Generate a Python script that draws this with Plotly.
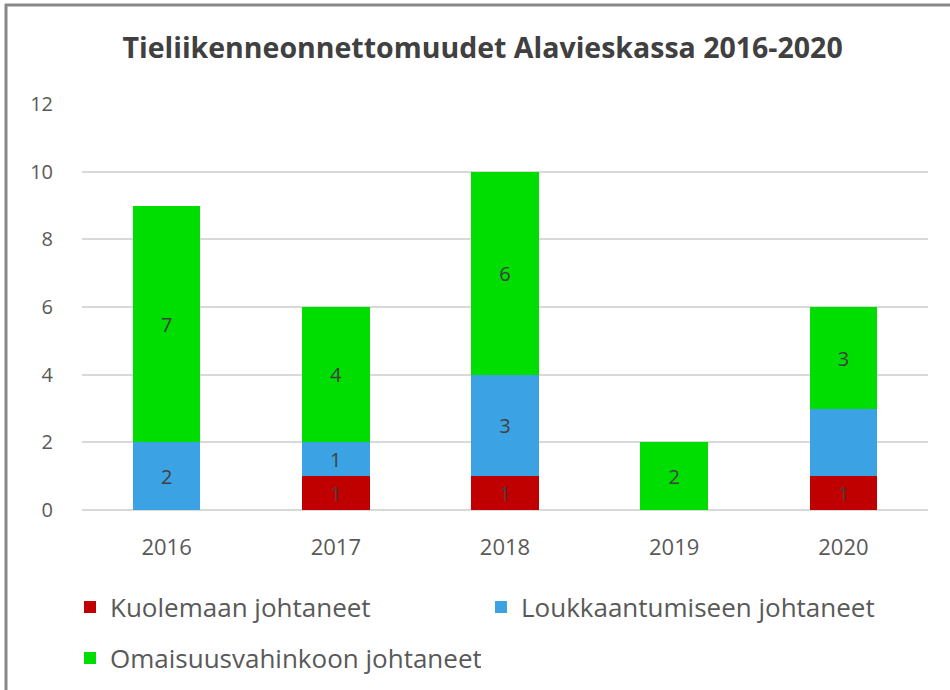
import plotly.graph_objects as go

years = ["2016", "2017", "2018", "2019", "2020"]
kuolemaan = [0, 1, 1, 0, 1]
loukkaantumiseen = [2, 1, 3, 0, 2]
omaisuus = [7, 4, 6, 2, 3]
series_names = ["Kuolemaan johtaneet", "Loukkaantumiseen johtaneet", "Omaisuusvahinkoon johtaneet"]
colors = ["#C00000", "#3BA3E3", "#00DD00"]
# labels shown as in the original (2020 injury label missing there)
label_show = [
    [False, True, True, False, True],
    [True, True, True, False, False],
    [True, True, True, True, True],
]
legend_ids = ["legend", "legend", "legend2"]
title = "Tieliikenneonnettomuudet Alavieskassa 2016-2020"

FONT = "Open Sans"
fig = go.Figure()
for name, vals, col, show, lg in zip(series_names, [kuolemaan, loukkaantumiseen, omaisuus], colors, label_show, legend_ids):
    fig.add_trace(go.Bar(
        x=years, y=vals, name=name, legend=lg,
        marker=dict(color=col, line=dict(width=0)),
        text=[str(v) if s else "" for v, s in zip(vals, show)],
        textposition="inside", insidetextanchor="middle",
        textfont=dict(size=23, color="#404040", family=FONT),
        textangle=0,
    ))

W, H = 950, 690
L, R, T, B = 82, 22, 104, 180
pw, ph = W - L - R, H - T - B

def px(x):
    return (x - L) / pw

def py(y):
    return (H - B - y) / ph

legend_common = dict(orientation="h", xanchor="left", yanchor="middle",
                     font=dict(size=26, color="#595959"), entrywidth=366, entrywidthmode="pixels",
                     traceorder="normal", bgcolor="rgba(0,0,0,0)")

fig.update_layout(
    barmode="stack", bargap=0.6,
    width=W, height=H,
    margin=dict(l=L, r=R, t=T, b=B, autoexpand=False),
    paper_bgcolor="white", plot_bgcolor="white",
    font=dict(family=FONT, color="#595959"),
    uniformtext=dict(minsize=10, mode="show"),
    title=dict(text="<b>" + title + "</b>", x=0.508, xanchor="center",
               y=1 - 48 / H, yanchor="middle",
               font=dict(size=28.5, color="#404040", family=FONT)),
    xaxis=dict(showgrid=False, showline=False, ticks="", tickfont=dict(size=22, color="#595959"),
               ticklabelstandoff=22),
    yaxis=dict(range=[0, 12], dtick=2, showgrid=True, gridcolor="#D9D9D9", gridwidth=1.5,
               zeroline=True, zerolinecolor="#D9D9D9", zerolinewidth=1.5,
               ticks="", tickfont=dict(size=20, color="#595959"), ticklabelstandoff=28),
    legend=dict(x=px(70), y=py(607), **legend_common),
    legend2=dict(x=px(70), y=py(658), **legend_common),
    showlegend=True,
    shapes=[
        dict(type="line", xref="paper", yref="paper", x0=px(5), x1=px(952), y0=py(5), y1=py(5),
             line=dict(color="#888888", width=3)),
        dict(type="line", xref="paper", yref="paper", x0=px(6), x1=px(6), y0=py(4), y1=py(692),
             line=dict(color="#888888", width=3)),
    ],
)

fig.write_html("out.html", config={"displayModeBar": False},
               post_script="document.body.style.margin='0';document.body.style.padding='0';")
